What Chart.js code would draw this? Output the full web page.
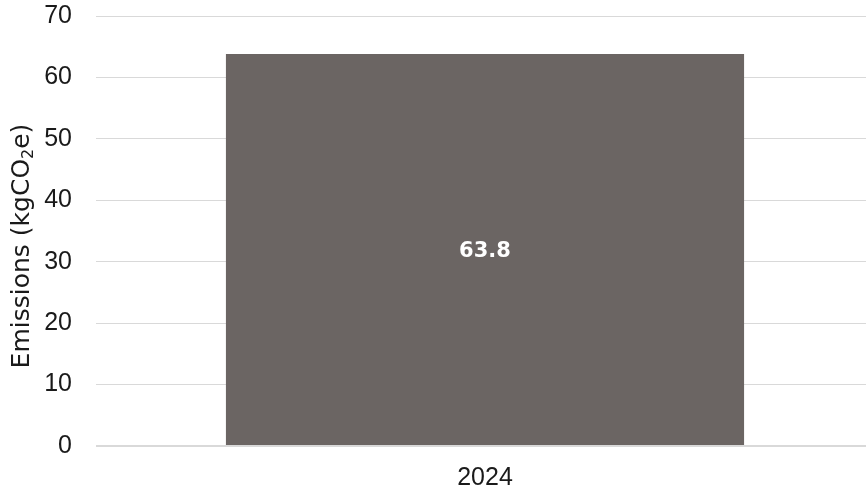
<!DOCTYPE html>
<html>
<head>
<meta charset="utf-8">
<script src="https://cdn.jsdelivr.net/npm/chart.js@4/dist/chart.umd.min.js"></script>
<style>
    html, body { margin: 0; padding: 0; background: #fff; overflow: hidden; }
    #wrap { width: 874px; height: 493px; }
</style>
</head>
<body>
<div id="wrap"><canvas id="emissionsChart"></canvas></div>
<script>
const categories = ['2024'];
const emissions = [63.8];
const yTicks = [0, 10, 20, 30, 40, 50, 60, 70];
// axis title split so the "2" can be drawn as a real subscript
const yTitleParts = [['Emissions (kgCO', false], ['2', true], ['e)', false]];

const TICK_FONT = '"Liberation Sans", Arial, sans-serif';
const TITLE_FONT = '"DejaVu Sans", sans-serif';

// draw the value in the middle of each bar
const barLabels = {
    id: 'barLabels',
    afterDatasetsDraw(chart) {
        const ctx = chart.ctx;
        const meta = chart.getDatasetMeta(0);
        ctx.save();
        ctx.fillStyle = '#ffffff';
        ctx.font = 'bold 21px ' + TITLE_FONT;
        ctx.textAlign = 'center';
        ctx.textBaseline = 'middle';
        meta.data.forEach((bar, i) => {
            const mid = (bar.y + bar.base) / 2;
            ctx.fillText(emissions[i].toFixed(1), bar.x, mid + 2);
        });
        ctx.restore();
    }
};

// rotated y-axis title with subscript
const yTitle = {
    id: 'yTitle',
    afterDraw(chart) {
        const ctx = chart.ctx;
        const main = '25px ' + TITLE_FONT;
        const sub = '16px ' + TITLE_FONT;
        ctx.save();
        let total = 0;
        yTitleParts.forEach(([t, isSub]) => {
            ctx.font = isSub ? sub : main;
            total += ctx.measureText(t).width;
        });
        ctx.translate(22, 246);
        ctx.rotate(-Math.PI / 2);
        ctx.fillStyle = '#1a1a1a';
        ctx.textAlign = 'left';
        ctx.textBaseline = 'middle';
        let x = -total / 2;
        yTitleParts.forEach(([t, isSub]) => {
            ctx.font = isSub ? sub : main;
            ctx.fillText(t, x, isSub ? 7 : 0);
            x += ctx.measureText(t).width;
        });
        ctx.restore();
    }
};

const ctx = document.getElementById('emissionsChart').getContext('2d');
const chart = new Chart(ctx, {
    type: 'bar',
    data: {
        labels: categories,
        datasets: [{
            data: emissions,
            backgroundColor: '#6b6563',
            borderWidth: 0,
            categoryPercentage: 0.666,
            barPercentage: 1.0
        }]
    },
    options: {
        responsive: true,
        maintainAspectRatio: false,
        animation: false,
        layout: { padding: { top: 16, right: 0, bottom: 0, left: 0 } },
        plugins: {
            legend: { display: false },
            tooltip: { enabled: false }
        },
        scales: {
            x: {
                grid: { display: false, drawTicks: false },
                border: { display: false },
                ticks: { color: '#1a1a1a', font: { family: TICK_FONT, size: 25 }, padding: 17 },
                afterFit(scale) {
                    scale.height = 47;
                    scale.paddingLeft = 0;
                    scale.paddingRight = 0;
                }
            },
            y: {
                min: 0,
                max: 70,
                afterBuildTicks(scale) { scale.ticks = yTicks.map(v => ({ value: v })); },
                grid: {
                    color: '#d9d9d9',
                    lineWidth: c => (c.tick && c.tick.value === 0 ? 2 : 1),
                    drawTicks: false
                },
                border: { display: false },
                ticks: { color: '#1a1a1a', font: { family: TICK_FONT, size: 25 }, padding: 24 },
                afterFit(scale) {
                    scale.width = 96;
                    scale.paddingTop = 0;
                    scale.paddingBottom = 0;
                }
            }
        }
    },
    plugins: [barLabels, yTitle]
});
</script>
</body>
</html>
